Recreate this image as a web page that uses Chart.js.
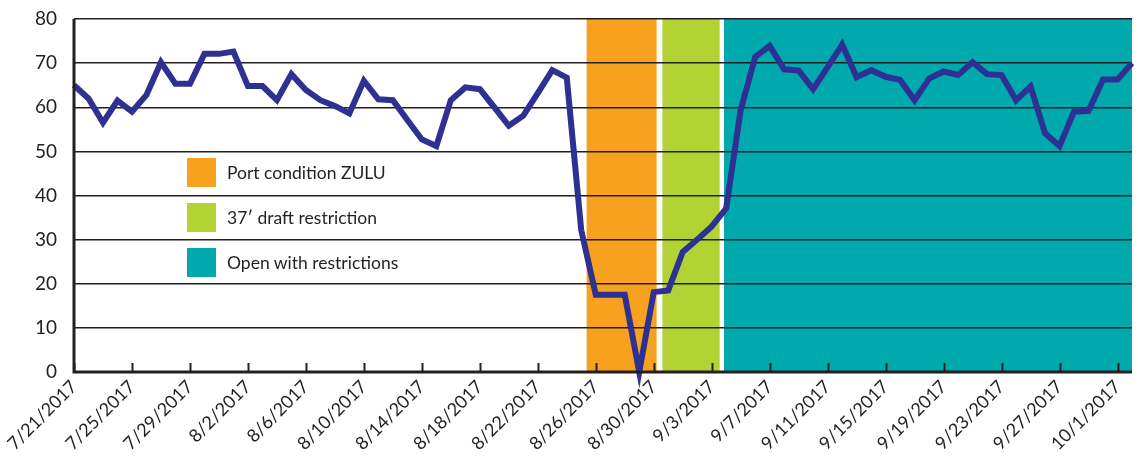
<!DOCTYPE html>
<html>
<head>
<meta charset="utf-8">
<script src="https://cdn.jsdelivr.net/npm/chart.js@4/dist/chart.umd.min.js"></script>
<style>
  html, body { margin: 0; padding: 0; background: #fff; }
  #wrap { position: relative; width: 1138px; height: 462px; }
  canvas { display: block; }
  .leg { position: absolute; left: 187px; height: 29px; display: flex; align-items: center;
         font-family: Lato, "Open Sans", sans-serif; font-size: 17.5px; color: #231f20; white-space: nowrap; }
  .leg .sw { width: 29px; height: 29px; margin-right: 11px; flex: none; }
</style>
</head>
<body>
<div id="wrap">
  <canvas id="c" width="1138" height="462"></canvas>
  <div class="leg" style="top:158px"><span class="sw" style="background:#F7A11E"></span>Port condition ZULU</div>
  <div class="leg" style="top:203px"><span class="sw" style="background:#B3D335"></span>37′ draft restriction</div>
  <div class="leg" style="top:248px"><span class="sw" style="background:#00A9AE"></span>Open with restrictions</div>
</div>
<script>
// Categories: one per day
const dates = [
  '7/21/2017','7/22/2017','7/23/2017','7/24/2017','7/25/2017','7/26/2017','7/27/2017','7/28/2017','7/29/2017','7/30/2017','7/31/2017',
  '8/1/2017','8/2/2017','8/3/2017','8/4/2017','8/5/2017','8/6/2017','8/7/2017','8/8/2017','8/9/2017','8/10/2017',
  '8/11/2017','8/12/2017','8/13/2017','8/14/2017','8/15/2017','8/16/2017','8/17/2017','8/18/2017','8/19/2017','8/20/2017',
  '8/21/2017','8/22/2017','8/23/2017','8/24/2017','8/25/2017','8/26/2017','8/27/2017','8/28/2017','8/29/2017','8/30/2017',
  '8/31/2017','9/1/2017','9/2/2017','9/3/2017','9/4/2017','9/5/2017','9/6/2017','9/7/2017','9/8/2017','9/9/2017',
  '9/10/2017','9/11/2017','9/12/2017','9/13/2017','9/14/2017','9/15/2017','9/16/2017','9/17/2017','9/18/2017','9/19/2017',
  '9/20/2017','9/21/2017','9/22/2017','9/23/2017','9/24/2017','9/25/2017','9/26/2017','9/27/2017','9/28/2017','9/29/2017',
  '9/30/2017','10/1/2017','10/2/2017'
];
// Series values
const values = [
  65.0, 62.0, 56.5, 61.5, 59.0, 62.8, 70.2, 65.3, 65.3, 72.1, 72.1,
  72.6, 64.8, 64.8, 61.6, 67.5, 63.9, 61.6, 60.3, 58.6, 66.0,
  61.8, 61.6, 57.1, 52.7, 51.2, 61.6, 64.5, 64.1, 60.0, 55.8,
  58.1, 63.2, 68.4, 66.7, 32.1, 17.5, 17.5, 17.5, 0.0, 18.1,
  18.5, 27.2, 30.0, 33.0, 37.1, 59.4, 71.4, 73.9, 68.6, 68.3,
  64.1, 69.1, 74.2, 66.8, 68.4, 66.9, 66.2, 61.6, 66.5, 68.1,
  67.3, 70.2, 67.5, 67.3, 61.6, 64.7, 54.1, 51.2, 59.0, 59.2,
  66.3, 66.3, 70.0
];
// Tick labels shown on the x axis
const tickLabels = ['7/21/2017','7/25/2017','7/29/2017','8/2/2017','8/6/2017','8/10/2017','8/14/2017','8/18/2017','8/22/2017',
  '8/26/2017','8/30/2017','9/3/2017','9/7/2017','9/11/2017','9/15/2017','9/19/2017','9/23/2017','9/27/2017','10/1/2017'];
const yTicks = [0, 10, 20, 30, 40, 50, 60, 70, 80];
// Status periods (in day units along the category axis)
const periodNames = ['Port condition ZULU', '37′ draft restriction', 'Open with restrictions'];
const periodStart = [35.37, 40.6, 44.85];
const periodEnd   = [40.2, 44.55, 73];
const periodColors = ['#F7A11E', '#B3D335', '#00A9AE'];

const INK = '#231f20';

const periodsPlugin = {
  id: 'periods',
  beforeDraw(chart) {
    const {ctx, chartArea, scales} = chart;
    ctx.save();
    for (let i = 0; i < periodStart.length; i++) {
      const x0 = scales.x.getPixelForValue(periodStart[i]);
      const x1 = scales.x.getPixelForValue(periodEnd[i]);
      ctx.fillStyle = periodColors[i];
      ctx.fillRect(x0, chartArea.top, x1 - x0, chartArea.bottom - chartArea.top);
    }
    ctx.restore();
  },
  afterDatasetsDraw(chart) {
    const {ctx, chartArea, scales} = chart;
    ctx.save();
    ctx.strokeStyle = INK;
    ctx.lineWidth = 2;
    tickLabels.forEach(lbl => {
      const idx = dates.indexOf(lbl);
      const x = Math.round(scales.x.getPixelForValue(idx)) + 0.5;
      ctx.beginPath();
      ctx.moveTo(x, chartArea.bottom);
      ctx.lineTo(x, chartArea.bottom - 9);
      ctx.stroke();
    });
    ctx.lineWidth = 3;
    ctx.beginPath();
    ctx.moveTo(chartArea.left, chartArea.top);
    ctx.lineTo(chartArea.left, chartArea.bottom);
    ctx.lineTo(chartArea.right, chartArea.bottom);
    ctx.stroke();
    ctx.restore();
  }
};

new Chart(document.getElementById('c'), {
  type: 'line',
  data: {
    labels: dates,
    datasets: [{
      data: values,
      borderColor: '#2E3192',
      borderWidth: 6,
      pointRadius: 0,
      tension: 0,
      fill: false,
      borderJoinStyle: 'miter',
      clip: false
    }]
  },
  options: {
    responsive: false,
    animation: false,
    events: [],
    layout: { padding: { top: 19, right: 6, left: 0, bottom: 0 } },
    plugins: { legend: { display: false }, tooltip: { enabled: false } },
    scales: {
      x: {
        type: 'category',
        offset: false,
        grid: { display: false, drawTicks: false },
        border: { display: false },
        afterFit(s) { s.height = 90; s.paddingLeft = 0; s.paddingRight = 0; },
        ticks: {
          autoSkip: false,
          maxRotation: 45,
          minRotation: 45,
          padding: 4,
          color: INK,
          font: { family: 'Lato, "Open Sans", sans-serif', size: 18 },
          callback(v, i) { const l = dates[i]; return tickLabels.includes(l) ? l : ''; }
        }
      },
      y: {
        min: 0, max: 80,
        afterBuildTicks(s) { s.ticks = yTicks.map(v => ({ value: v })); },
        afterFit(s) { s.width = 74; s.paddingTop = 0; s.paddingBottom = 0; },
        grid: { color: INK, lineWidth: 1.5, drawTicks: false },
        border: { display: false },
        ticks: {
          padding: 17,
          color: INK,
          font: { family: 'Lato, "Open Sans", sans-serif', size: 19 }
        }
      }
    }
  },
  plugins: [periodsPlugin]
});
</script>
</body>
</html>
